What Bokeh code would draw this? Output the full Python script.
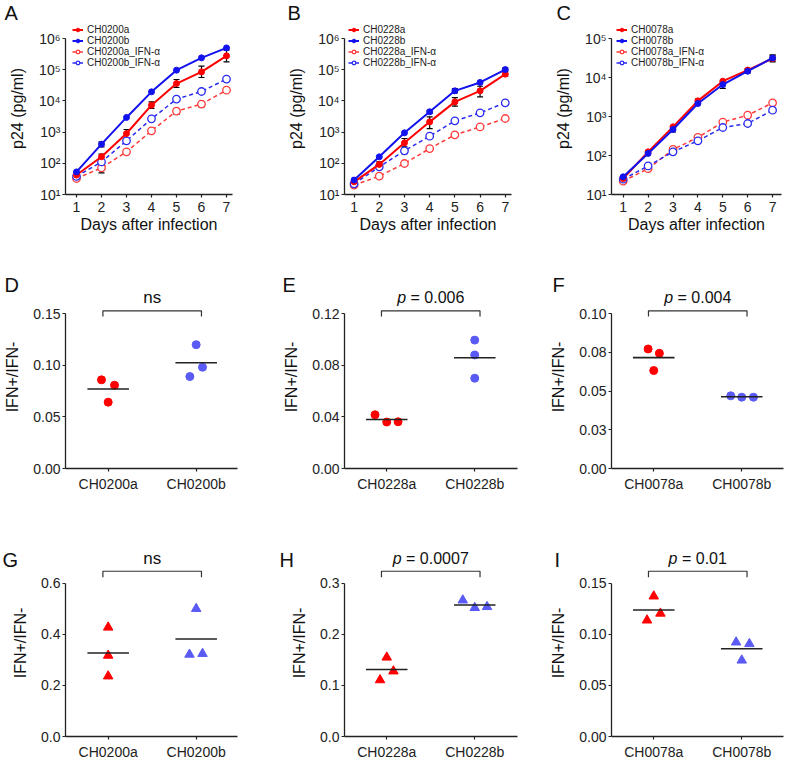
import math
from bokeh.plotting import figure
from bokeh.layouts import row, column
from bokeh.models import (FixedTicker, Legend, LegendItem, Title, Whisker,
                          ColumnDataSource, Range1d, TeeHead)
from bokeh.core.properties import value
from bokeh.embed import file_html
from bokeh.resources import INLINE

# ---------------------------------------------------------------- data
days = [1, 2, 3, 4, 5, 6, 7]

log_ticks_6 = [10, 100, 1000, 10000, 100000, 1000000]
log_labels_6 = ["10¹", "10²", "10³", "10⁴", "10⁵", "10⁶"]
log_ticks_5 = [10, 100, 1000, 10000, 100000]
log_labels_5 = ["10¹", "10²", "10³", "10⁴", "10⁵"]

# Panel A
A_names = ["CH0200a", "CH0200b", "CH0200a_IFN-α", "CH0200b_IFN-α"]
A_a = [42, 162, 900, 7300, 36000, 85000, 278000]
A_a_lo = [None, 132, 624, 5700, 26900, 56200, 179000]
A_a_hi = [None, 196, 1211, 9330, 48500, 130000, 423000]
A_b = [53, 410, 2950, 19500, 96600, 240000, 500000]
A_b_lo = [None, 337, None, None, None, None, None]
A_b_hi = [None, 488, None, None, None, None, None]
A_a_ifn = [32.6, 71.6, 234, 1100, 4700, 7900, 22000]
A_a_ifn_lo = [None, 49.4, None, None, 3660, 6460, None]
A_a_ifn_hi = [None, 98.6, None, None, 5700, 9330, None]
A_b_ifn = [38, 111, 525, 2660, 11400, 20000, 50000]

# Panel B
B_names = ["CH0228a", "CH0228b", "CH0228a_IFN-α", "CH0228b_IFN-α"]
B_a = [25.5, 92, 453, 2130, 9300, 21000, 72000]
B_a_lo = [None, 73, 337, 1300, 6760, 13500, 61900]
B_a_hi = [None, 111, 624, 3090, 12800, 29500, 85000]
B_b = [29, 161, 947, 4470, 21000, 39000, 101000]
B_b_lo = [None, None, None, 3970, 18200, None, 91000]
B_b_hi = [None, None, None, 5000, 25000, None, 115000]
B_a_ifn = [20, 38.7, 98.6, 296, 815, 1470, 2730]
B_b_ifn = [22, 77, 251, 742, 2300, 4150, 8700]
B_b_ifn_lo = [None, None, 205, None, None, None, None]
B_b_ifn_hi = [None, None, 295, None, None, None, None]

# Panel C
C_names = ["CH0078a", "CH0078b", "CH0078a_IFN-α", "CH0078b_IFN-α"]
C_a = [25.7, 124, 543, 2520, 8050, 15500, 30700]
C_a_lo = [None, None, None, 2240, None, 13200, 25200]
C_a_hi = [None, None, None, 2800, None, 17000, 37400]
C_b = [28.4, 113, 464, 2150, 6600, 14500, 31700]
C_b_lo = [None, None, 400, None, 5260, None, 26700]
C_b_hi = [None, None, 520, None, 7760, None, 37400]
C_a_ifn = [22, 46, 143, 290, 716, 1080, 2240]
C_b_ifn = [24.7, 54, 124, 238, 522, 662, 1450]

# Ratio panels (circles: D-F, triangles: G-I)
D_cats = ["CH0200a", "CH0200b"]
D_a = [0.0858, 0.0806, 0.0642]
D_a_jit = [-0.076, 0.072, 0.0]
D_b = [0.1198, 0.098, 0.089]
D_b_jit = [0.0, 0.072, -0.072]
D_ticks = [0.0, 0.05, 0.10, 0.15]
D_tick_labels = ["0.00", "0.05", "0.10", "0.15"]
D_sig = "ns"

E_cats = ["CH0228a", "CH0228b"]
E_a = [0.0416, 0.0360, 0.0362]
E_a_jit = [-0.133, 0.0, 0.129]
E_b = [0.0994, 0.0879, 0.0699]
E_b_jit = [0.0, 0.0, 0.0]
E_ticks = [0.0, 0.04, 0.08, 0.12]
E_tick_labels = ["0.00", "0.04", "0.08", "0.12"]
E_sig = "p = 0.006"

F_cats = ["CH0078a", "CH0078b"]
F_a = [0.0771, 0.0743, 0.0632]
F_a_jit = [-0.064, 0.064, 0.0]
F_b = [0.0469, 0.0460, 0.0460]
F_b_jit = [-0.125, 0.0, 0.133]
F_ticks = [0.0, 0.025, 0.05, 0.075, 0.10]
F_tick_labels = ["0.00", "0.03", "0.05", "0.08", "0.10"]
F_sig = "p = 0.004"

G_cats = ["CH0200a", "CH0200b"]
G_a = [0.427, 0.317, 0.236]
G_a_jit = [0.0, 0.0, 0.0]
G_b = [0.500, 0.321, 0.324]
G_b_jit = [0.0, -0.076, 0.072]
G_ticks = [0.0, 0.2, 0.4, 0.6]
G_tick_labels = ["0.0", "0.2", "0.4", "0.6"]
G_sig = "ns"

H_cats = ["CH0228a", "CH0228b"]
H_a = [0.1548, 0.1278, 0.1105]
H_a_jit = [0.0, 0.076, -0.076]
H_b = [0.2666, 0.2518, 0.2537]
H_b_jit = [-0.136, 0.0, 0.14]
H_ticks = [0.0, 0.1, 0.2, 0.3]
H_tick_labels = ["0.0", "0.1", "0.2", "0.3"]
H_sig = "p = 0.0007"

I_cats = ["CH0078a", "CH0078b"]
I_a = [0.1372, 0.1204, 0.1137]
I_a_jit = [0.0, 0.076, -0.076]
I_b = [0.0922, 0.0906, 0.0745]
I_b_jit = [-0.064, 0.087, 0.0]
I_ticks = [0.0, 0.05, 0.10, 0.15]
I_tick_labels = ["0.00", "0.05", "0.10", "0.15"]
I_sig = "p = 0.01"

# ---------------------------------------------------------------- style
FONT = "Liberation Sans"
INK = "#222222"
RED = "#FF0000"
BLUE = "#1212EE"
RED_D = "#FF3A3A"
BLUE_D = "#2A2AF2"
DOT_RED = "#FF0000"
DOT_BLUE = "#5A5AF5"


def style(p, ylab_standoff, xlab_standoff, xtick_standoff):
    p.grid.visible = False
    p.outline_line_color = None
    p.background_fill_color = "white"
    p.border_fill_color = "white"
    for ax in (p.xaxis[0], p.yaxis[0]):
        ax.axis_line_color = INK
        ax.axis_line_width = 1.3
        ax.major_tick_line_color = INK
        ax.major_tick_line_width = 1.2
        ax.major_tick_in = 0
        ax.major_tick_out = 3
        ax.minor_tick_line_color = None
        ax.major_label_text_font = FONT
        ax.major_label_text_font_size = "14px"
        ax.major_label_text_color = INK
        ax.major_label_standoff = 2
        ax.axis_label_text_font = FONT
        ax.axis_label_text_font_size = "16px"
        ax.axis_label_text_font_style = "normal"
        ax.axis_label_text_color = "#111111"
    p.xaxis.axis_label_standoff = xlab_standoff
    p.xaxis.major_label_standoff = xtick_standoff
    p.yaxis.axis_label_standoff = ylab_standoff


def set_letter(p, letter, offset, standoff):
    p.title = Title(text=letter, align="left", offset=offset, standoff=standoff,
                    vertical_align="bottom", text_font=FONT, text_font_size="20px",
                    text_font_style="normal", text_color="#111111")


# ---- growth panels (row 1)
R1_H, R1_TOP, R1_BOT, R1_HEAD = 245, 38, 194, 16


def growth_panel(col, letter, names, series, errors, yticks, ylabels):
    top = R1_TOP - R1_HEAD
    ymin, ymax = yticks[0], yticks[-1]
    pxpd = (R1_BOT - R1_TOP) / (math.log10(ymax) - math.log10(ymin))
    y_end = 10 ** (math.log10(ymax) + R1_HEAD / pxpd)
    x0 = col["x0"]
    x1 = x0 + col["frame_w"] / col["ppu"]
    p = figure(width=col["w"], height=R1_H, x_range=Range1d(x0, x1),
               y_range=Range1d(ymin, y_end), y_axis_type="log",
               output_backend="svg", toolbar_location=None,
               min_border_left=col["left"],
               min_border_right=col["w"] - col["left"] - col["frame_w"],
               min_border_top=top, min_border_bottom=R1_H - R1_BOT)
    style(p, 10, 1, 4)
    p.yaxis.bounds = (ymin, ymax)
    p.yaxis.ticker = FixedTicker(ticks=yticks)
    p.yaxis.major_label_overrides = dict(zip(yticks, ylabels))
    p.xaxis.ticker = FixedTicker(ticks=days)
    p.xaxis.axis_label = "Days after infection"
    p.yaxis.axis_label = "p24 (pg/ml)"

    looks = [(RED, "solid", True, 2.0), (BLUE, "solid", True, 2.0),
             (RED_D, "4 3", False, 1.5), (BLUE_D, "4 3", False, 1.5)]
    rend = [None] * 4
    for i in (2, 3, 0, 1):
        c, dash, filled, lw = looks[i]
        ln = p.line(days, series[i], line_color=c, line_width=lw, line_dash=dash)
        if filled:
            sc = p.scatter(days, series[i], marker="circle", size=6,
                           fill_color=c, line_color=c, line_width=1)
        else:
            sc = p.scatter(days, series[i], marker="circle", size=7.5,
                           fill_color="white", line_color=c, line_width=1.3)
        rend[i] = [ln, sc]
        lo, hi = errors[i]
        if lo is not None:
            xs = [d for d, l in zip(days, lo) if l is not None]
            los = [l for l in lo if l is not None]
            his = [h for h in hi if h is not None]
            src = ColumnDataSource(dict(x=xs, lo=los, hi=his))
            p.add_layout(Whisker(source=src, base="x", lower="lo", upper="hi",
                                 dimension="height", line_color="black", line_width=1.2,
                                 upper_head=TeeHead(size=6, line_color="black", line_width=1.2),
                                 lower_head=TeeHead(size=6, line_color="black", line_width=1.2)))
    items = [LegendItem(label=names[i], renderers=rend[i]) for i in range(4)]
    leg = Legend(items=items, location=(col["leg_x"], 126),
                 label_text_font=FONT, label_text_font_size="10px", label_text_color=INK,
                 glyph_width=11, glyph_height=9, label_height=9, label_standoff=4,
                 spacing=0, padding=0, margin=0, border_line_color=None,
                 background_fill_alpha=0)
    p.add_layout(leg)
    set_letter(p, letter, col["letter_x"], -3)
    return p


# ---- ratio panels (rows 2 and 3)
ROW2 = dict(h=260, top=68, bot=223, head=28, brk=2.7, brk_end=-3.0, txt=16.0, letter_so=-21)
ROW3 = dict(h=257, top=78, bot=233, head=34, brk=12.0, brk_end=6.0, txt=24.5, letter_so=-43)

CHAR_W = {"p": 0.556, " ": 0.278, "=": 0.584, ".": 0.278}


def text_width(s, size):
    return sum(CHAR_W.get(ch, 0.556) for ch in s) * size


def dot_panel(rw, col, letter, cats, a, a_jit, b, b_jit, yticks, ylabels, sig, marker):
    ymax = yticks[-1]
    dpp = ymax / (rw["bot"] - rw["top"])
    top = rw["top"] - rw["head"]
    x0 = col["x0"]
    x1 = x0 + col["frame_w"] / 88.0
    p = figure(width=col["w"], height=rw["h"], x_range=Range1d(x0, x1),
               y_range=Range1d(0, ymax + rw["head"] * dpp),
               output_backend="svg", toolbar_location=None,
               min_border_left=col["left"],
               min_border_right=col["w"] - col["left"] - col["frame_w"],
               min_border_top=top, min_border_bottom=rw["h"] - rw["bot"])
    style(p, 9, 0, 4)
    p.yaxis.bounds = (0, ymax)
    p.yaxis.ticker = FixedTicker(ticks=yticks)
    p.yaxis.major_label_overrides = dict(zip(yticks, ylabels))
    p.yaxis.axis_label = "IFN+/IFN-"
    p.xaxis.ticker = FixedTicker(ticks=[1, 2])
    p.xaxis.major_label_overrides = {1: cats[0], 2: cats[1]}

    size = 8 if marker == "circle" else 9.5
    p.scatter([1 + j for j in a_jit], a, marker=marker, size=size,
              fill_color=DOT_RED, line_color=DOT_RED)
    p.scatter([2 + j for j in b_jit], b, marker=marker, size=size,
              fill_color=DOT_BLUE, line_color=DOT_BLUE)
    means = [sum(a) / len(a), sum(b) / len(b)]
    p.segment(x0=[0.764, 1.764], x1=[1.236, 2.236], y0=means, y1=means,
              line_color=INK, line_width=1.6)

    yb = ymax + rw["brk"] * dpp
    ye = ymax + rw["brk_end"] * dpp
    p.line([0.94, 0.94, 2.06, 2.06], [ye, yb, yb, ye], line_color="#333333", line_width=1.2)
    yt = ymax + rw["txt"] * dpp
    fs = 16
    if sig.startswith("p"):
        rest = sig[1:].strip()
        off = text_width("p", fs) - text_width(sig, fs) / 2
        p.text([1.5], [yt], text=["p"], x_offset=off, text_align="right",
               text_baseline="middle", text_font=value(FONT), text_font_size="16px",
               text_font_style="italic", text_color="#111111")
        p.text([1.5], [yt], text=[rest], x_offset=off + text_width(" ", fs),
               text_align="left", text_baseline="middle", text_font=value(FONT),
               text_font_size="16px", text_color="#111111")
    else:
        p.text([1.5], [yt], text=[sig], text_align="center", text_baseline="middle",
               text_font=value(FONT), text_font_size="17px", text_color="#111111")
    set_letter(p, letter, col["letter_x"], rw["letter_so"])
    return p


colA = dict(w=262, left=65, frame_w=167, x0=0.56, ppu=25.0, leg_x=7, letter_x=-61)
colB = dict(w=262, left=82, frame_w=167, x0=0.62, ppu=25.2, leg_x=4, letter_x=-57)
colC = dict(w=263, left=87, frame_w=170, x0=0.53, ppu=24.9, leg_x=5, letter_x=-55)

pA = growth_panel(colA, "A", A_names, [A_a, A_b, A_a_ifn, A_b_ifn],
                  [(A_a_lo, A_a_hi), (A_b_lo, A_b_hi), (A_a_ifn_lo, A_a_ifn_hi), (None, None)],
                  log_ticks_6, log_labels_6)
pB = growth_panel(colB, "B", B_names, [B_a, B_b, B_a_ifn, B_b_ifn],
                  [(B_a_lo, B_a_hi), (B_b_lo, B_b_hi), (None, None), (B_b_ifn_lo, B_b_ifn_hi)],
                  log_ticks_6, log_labels_6)
pC = growth_panel(colC, "C", C_names, [C_a, C_b, C_a_ifn, C_b_ifn],
                  [(C_a_lo, C_a_hi), (C_b_lo, C_b_hi), (None, None), (None, None)],
                  log_ticks_5, log_labels_5)

c1 = dict(w=262, left=65, frame_w=172, x0=0.515)
c2 = dict(w=262, left=82, frame_w=173, x0=0.52)
c3 = dict(w=263, left=87, frame_w=172, x0=0.52)

pD = dot_panel(ROW2, dict(c1, letter_x=-61), "D", D_cats, D_a, D_a_jit, D_b, D_b_jit,
               D_ticks, D_tick_labels, D_sig, "circle")
pE = dot_panel(ROW2, dict(c2, letter_x=-62), "E", E_cats, E_a, E_a_jit, E_b, E_b_jit,
               E_ticks, E_tick_labels, E_sig, "circle")
pF = dot_panel(ROW2, dict(c3, letter_x=-59), "F", F_cats, F_a, F_a_jit, F_b, F_b_jit,
               F_ticks, F_tick_labels, F_sig, "circle")
pG = dot_panel(ROW3, dict(c1, letter_x=-63), "G", G_cats, G_a, G_a_jit, G_b, G_b_jit,
               G_ticks, G_tick_labels, G_sig, "triangle")
pH = dot_panel(ROW3, dict(c2, letter_x=-65), "H", H_cats, H_a, H_a_jit, H_b, H_b_jit,
               H_ticks, H_tick_labels, H_sig, "triangle")
pI = dot_panel(ROW3, dict(c3, letter_x=-57), "I", I_cats, I_a, I_a_jit, I_b, I_b_jit,
               I_ticks, I_tick_labels, I_sig, "triangle")

layout = column(row(pA, pB, pC, spacing=0),
                row(pD, pE, pF, spacing=0),
                row(pG, pH, pI, spacing=0), spacing=0)

open("out.html", "w").write(file_html(layout, INLINE))
